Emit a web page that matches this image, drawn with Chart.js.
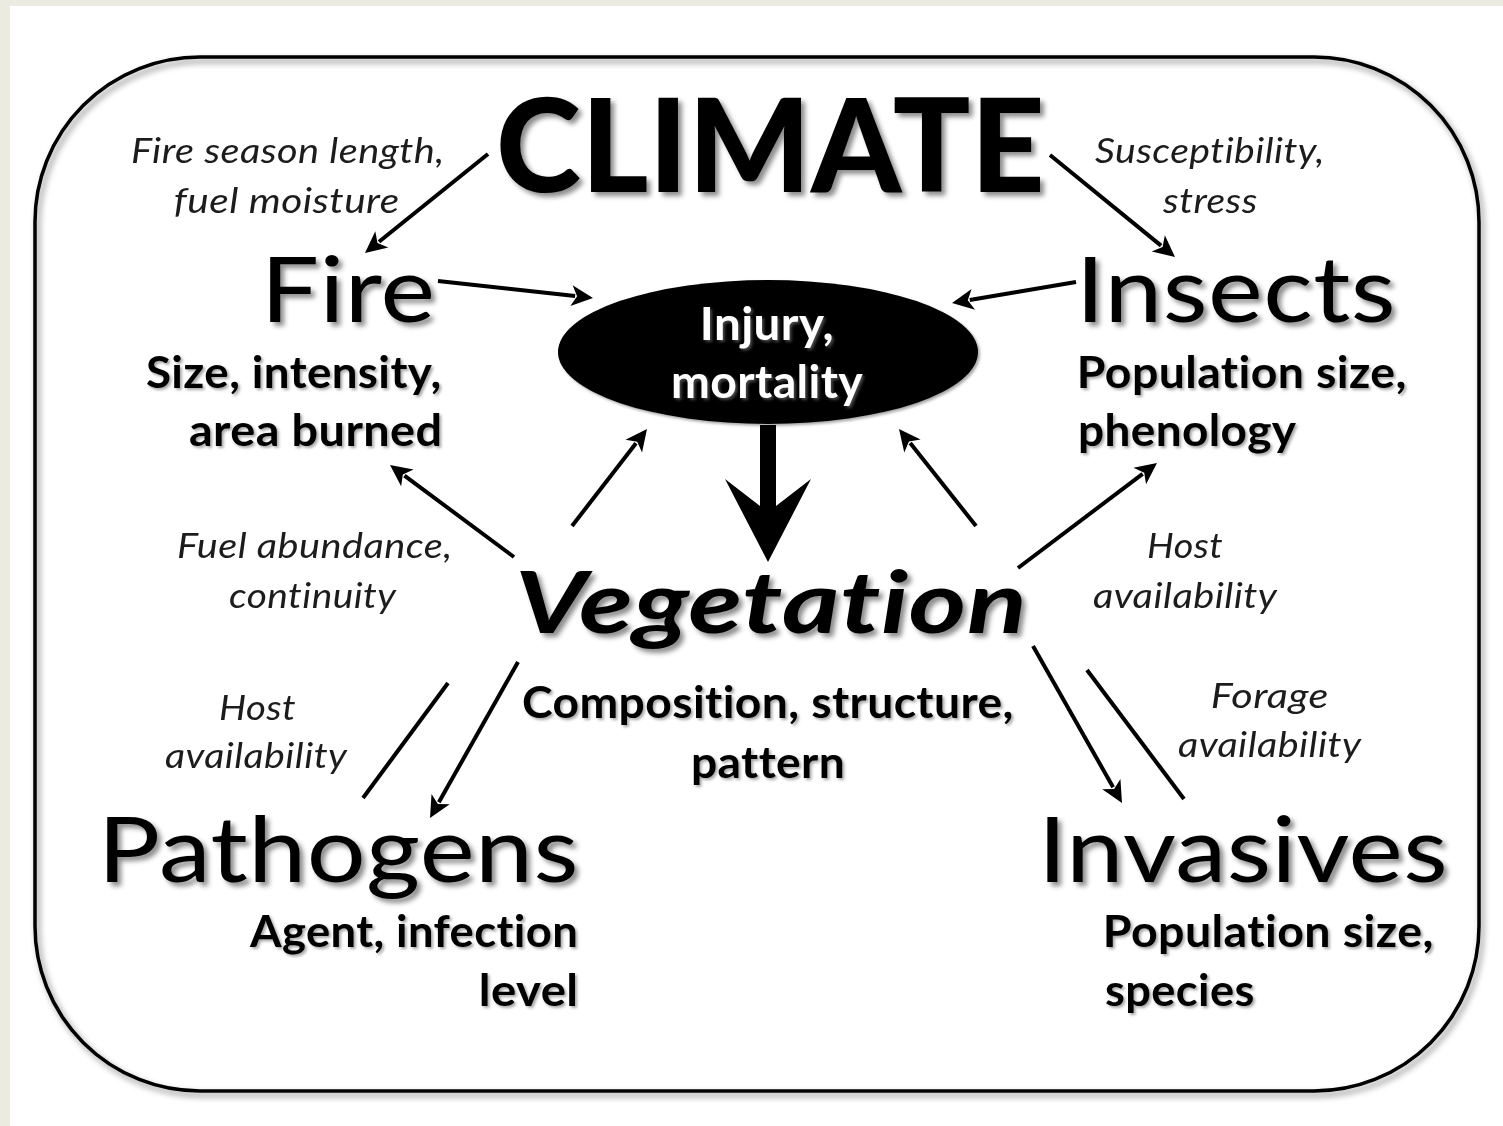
<!DOCTYPE html>
<html>
<head>
<meta charset="utf-8">
<title>Climate – disturbance – vegetation</title>
<script src="https://cdn.jsdelivr.net/npm/chart.js@4.4.1/dist/chart.umd.min.js"></script>
<style>
  html, body { margin: 0; padding: 0; background: #fff; }
  #wrap { width: 1503px; height: 1126px; }
</style>
</head>
<body>
<div id="wrap"><canvas id="diagram" width="1503" height="1126"></canvas></div>
<script>
// --- contenu du schéma ---
const nodes = ['CLIMATE', 'Fire', 'Insects', 'Vegetation', 'Pathogens', 'Invasives'];
const impact = ['Injury,', 'mortality'];
const nodeAttributes = [
  [],
  ['Size, intensity,', 'area burned'],
  ['Population size,', 'phenology'],
  ['Composition, structure,', 'pattern'],
  ['Agent, infection', 'level'],
  ['Population size,', 'species']
];
const linkFrom = ['CLIMATE', 'CLIMATE', 'Fire', 'Insects', 'Vegetation', 'Vegetation', 'Injury',
                  'Vegetation', 'Vegetation', 'Pathogens', 'Vegetation', 'Vegetation', 'Invasives'];
const linkTo   = ['Fire', 'Insects', 'Injury', 'Injury', 'Injury', 'Injury', 'Vegetation',
                  'Fire', 'Insects', 'Vegetation', 'Pathogens', 'Invasives', 'Vegetation'];
const linkNotes = [
  ['Fire season length,', 'fuel moisture'],
  ['Susceptibility,', 'stress'],
  ['Fuel abundance,', 'continuity'],
  ['Host', 'availability'],
  ['Host', 'availability'],
  ['Forage', 'availability']
];

// --- mise en page (unités des axes = pixels de l'image) ---
// [x1, y1, x2, y2, tête?]
const linkPath = [
  [488, 154, 365, 253, true],
  [1050, 155, 1175, 257, true],
  [438, 281, 593, 298, true],
  [1076, 282, 952, 303, true],
  [572, 526, 647, 429, true],
  [976, 526, 899, 429, true],
  [768, 425, 768, 562, 'big'],
  [514, 557, 390, 465, true],
  [1018, 568, 1157, 463, true],
  [363, 798, 448, 683, false],
  [518, 662, 430, 818, true],
  [1033, 646, 1122, 803, true],
  [1184, 799, 1087, 670, false]
];
// [gauche, droite, ligne de base, hauteur capitale]
const nodeBox = [
  [500, 1040, 192, 95],
  [270, 432, 322, 66],
  [1085, 1392, 322, 66],
  [520, 1022, 633, 63],
  [107, 575, 882, 66],
  [1047, 1444, 882, 66]
];
const attrBox = [
  [],
  [[147, 440, 388], [190, 440, 446]],
  [[1080, 1405, 388], [1080, 1297, 446]],
  [[523, 1012, 718], [693, 843, 778]],
  [[249, 576, 947], [481, 576, 1006]],
  [[1106, 1432, 947], [1106, 1253, 1006]]
];
const impactBox = [[703, 832, 340], [673, 863, 398]];
const noteBox = [
  [[132, 442, 163], [175, 398, 213]],
  [[1095, 1322, 163], [1162, 1257, 213]],
  [[178, 450, 558], [230, 397, 608]],
  [[1148, 1222, 558], [1093, 1278, 608]],
  [[220, 295, 720], [165, 348, 768]],
  [[1212, 1327, 708], [1178, 1362, 757]]
];

const HEAD = 24;

function shortened(p) {
  if (p[4] === false) return [p[0], p[1], p[2], p[3]];
  const dx = p[2] - p[0], dy = p[3] - p[1];
  const len = Math.hypot(dx, dy);
  const cut = p[4] === 'big' ? 50 : HEAD - 6;
  return [p[0], p[1], p[2] - dx / len * cut, p[3] - dy / len * cut];
}

const datasets = linkPath.map((p, i) => {
  const s = shortened(p);
  return {
    label: linkFrom[i] + ' → ' + linkTo[i],
    data: [{ x: s[0], y: s[1] }, { x: s[2], y: s[3] }],
    showLine: true,
    borderColor: '#000',
    borderWidth: p[4] === 'big' ? 16 : 4,
    borderCapStyle: 'butt',
    pointRadius: 0,
    fill: false
  };
});

let capRatio = 0.72;

function fitText(ctx, chart, text, left, right, base, cap, font) {
  const X = v => chart.scales.x.getPixelForValue(v);
  const Y = v => chart.scales.y.getPixelForValue(v);
  const size = cap / capRatio;
  ctx.font = font.replace('SIZE', size.toFixed(1) + 'px');
  ctx.letterSpacing = '0.4px'; // pas de ligature "ti" de Lato
  const m = ctx.measureText(text);
  const w = m.actualBoundingBoxLeft + m.actualBoundingBoxRight;
  const sx = (X(right) - X(left)) / w;
  ctx.save();
  ctx.translate(X(left), Y(base));
  ctx.scale(sx, 1);
  ctx.textAlign = 'left';
  ctx.textBaseline = 'alphabetic';
  ctx.fillText(text, m.actualBoundingBoxLeft, 0);
  ctx.restore();
}

function arrowHead(ctx, x1, y1, x2, y2) {
  const a = Math.atan2(y2 - y1, x2 - x1);
  const half = 0.45;
  ctx.beginPath();
  ctx.moveTo(x2, y2);
  ctx.lineTo(x2 - HEAD * Math.cos(a - half), y2 - HEAD * Math.sin(a - half));
  ctx.lineTo(x2 - (HEAD - 8) * Math.cos(a), y2 - (HEAD - 8) * Math.sin(a));
  ctx.lineTo(x2 - HEAD * Math.cos(a + half), y2 - HEAD * Math.sin(a + half));
  ctx.closePath();
  ctx.fill();
}

const diagramPlugin = {
  id: 'diagram',
  beforeDraw(chart) {
    const ctx = chart.ctx;
    const X = v => chart.scales.x.getPixelForValue(v);
    const Y = v => chart.scales.y.getPixelForValue(v);
    ctx.save();
    ctx.fillStyle = '#ecebe2';
    ctx.fillRect(0, 0, chart.width, chart.height);
    ctx.fillStyle = '#ffffff';
    ctx.fillRect(X(10), Y(6), chart.width, chart.height);
    // cadre arrondi avec ombre
    ctx.shadowColor = 'rgba(0,0,0,0.45)';
    ctx.shadowOffsetX = 3;
    ctx.shadowOffsetY = 4;
    ctx.shadowBlur = 6;
    ctx.strokeStyle = '#000';
    ctx.lineWidth = 3.5;
    ctx.beginPath();
    ctx.roundRect(X(35), Y(57), X(1479) - X(35), Y(1091) - Y(57), 165);
    ctx.stroke();
    ctx.restore();

    // ellipse "Injury, mortality"
    ctx.save();
    ctx.fillStyle = '#000';
    ctx.shadowColor = 'rgba(0,0,0,0.35)';
    ctx.shadowOffsetX = 2;
    ctx.shadowOffsetY = 2;
    ctx.shadowBlur = 3;
    ctx.beginPath();
    ctx.ellipse(X(768), Y(352), X(978) - X(768), Y(352) - Y(280), 0, 0, Math.PI * 2);
    ctx.fill();
    ctx.restore();
  },
  afterDatasetsDraw(chart) {
    const ctx = chart.ctx;
    const X = v => chart.scales.x.getPixelForValue(v);
    const Y = v => chart.scales.y.getPixelForValue(v);

    ctx.save();
    ctx.font = '100px Lato';
    capRatio = ctx.measureText('H').actualBoundingBoxAscent / 100 || 0.72;

    // têtes de flèches
    ctx.fillStyle = '#000';
    linkPath.forEach(p => {
      const x1 = X(p[0]), y1 = Y(p[1]), x2 = X(p[2]), y2 = Y(p[3]);
      if (p[4] === true) {
        arrowHead(ctx, x1, y1, x2, y2);
      } else if (p[4] === 'big') {
        ctx.beginPath();
        ctx.moveTo(x2, y2);
        ctx.lineTo(X(811), Y(479));
        ctx.lineTo(X(776), Y(506));
        ctx.lineTo(X(760), Y(506));
        ctx.lineTo(X(725), Y(479));
        ctx.closePath();
        ctx.fill();
      }
    });

    // grands titres
    ctx.fillStyle = '#000';
    ctx.shadowColor = 'rgba(0,0,0,0.45)';
    ctx.shadowOffsetX = 4;
    ctx.shadowOffsetY = 4;
    ctx.shadowBlur = 5;
    nodes.forEach((name, i) => {
      const b = nodeBox[i];
      let font = 'normal 400 SIZE Lato';
      if (name === 'CLIMATE') font = 'normal 900 SIZE Lato';
      if (name === 'Vegetation') font = 'italic 700 SIZE Lato';
      fitText(ctx, chart, name, b[0], b[1], b[2], b[3], font);
    });

    // attributs (gras)
    ctx.shadowColor = 'rgba(0,0,0,0.35)';
    ctx.shadowOffsetX = 2;
    ctx.shadowOffsetY = 2;
    ctx.shadowBlur = 3;
    nodeAttributes.forEach((lines, i) => {
      lines.forEach((t, j) => {
        const b = attrBox[i][j];
        fitText(ctx, chart, t, b[0], b[1], b[2], 32, 'normal 700 SIZE Lato');
      });
    });

    // texte de l'ellipse
    ctx.fillStyle = '#fff';
    ctx.shadowColor = 'rgba(120,120,120,0.6)';
    impact.forEach((t, j) => {
      const b = impactBox[j];
      fitText(ctx, chart, t, b[0], b[1], b[2], 33, 'normal 700 SIZE Lato');
    });

    // notes des liens (italique)
    ctx.shadowColor = 'transparent';
    ctx.fillStyle = '#1c1c1c';
    linkNotes.forEach((lines, i) => {
      lines.forEach((t, j) => {
        const b = noteBox[i][j];
        fitText(ctx, chart, t, b[0], b[1], b[2], 26, 'italic 400 SIZE Lato');
      });
    });
    ctx.restore();
  }
};

new Chart(document.getElementById('diagram'), {
  type: 'scatter',
  data: { datasets: datasets },
  options: {
    responsive: false,
    animation: false,
    events: [],
    layout: { padding: 0 },
    scales: {
      x: { type: 'linear', min: 0, max: 1503, display: false },
      y: { type: 'linear', min: 0, max: 1126, reverse: true, display: false }
    },
    plugins: {
      legend: { display: false },
      tooltip: { enabled: false }
    }
  },
  plugins: [diagramPlugin]
});
</script>
</body>
</html>
